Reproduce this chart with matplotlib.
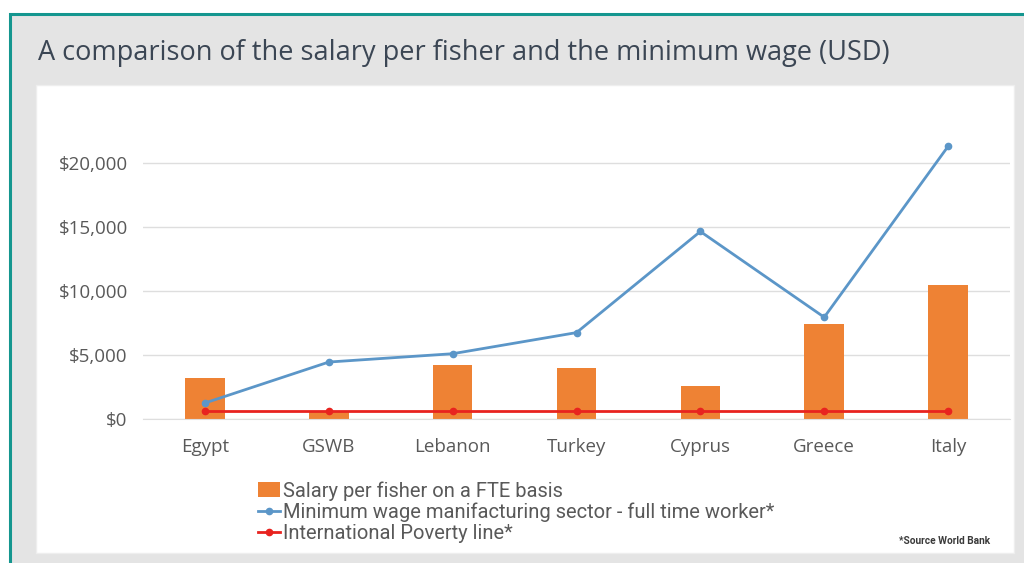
import numpy as np
import matplotlib.pyplot as plt
from matplotlib.patches import Rectangle
from matplotlib.ticker import FuncFormatter

# data (USD)
countries = ['Egypt', 'GSWB', 'Lebanon', 'Turkey', 'Cyprus', 'Greece', 'Italy']
salary_fisher = [3200, 650, 4200, 4000, 2600, 7400, 10500]
min_wage = [1250, 4450, 5100, 6750, 14650, 7950, 21300]
poverty_line = [600, 600, 600, 600, 600, 600, 600]

W, H = 1024, 563
fig = plt.figure(figsize=(W / 100, H / 100), dpi=100)
fig.patch.set_facecolor('white')

# grey card with teal edge, white chart area on top
fig.patches.append(Rectangle((10 / W, -0.2), 1.2, 1.2 - 14 / H, transform=fig.transFigure,
                             facecolor='#e4e4e4', edgecolor='#14968f', linewidth=2.2, zorder=-3))
fig.patches.append(Rectangle((36 / W, 1 - 553 / H), (1014 - 36) / W, (553 - 85) / H,
                             transform=fig.transFigure, facecolor='white',
                             edgecolor='#eeeeee', linewidth=1, zorder=-2))

fig.text(38 / W, 1 - 53 / H, 'A comparison of the salary per fisher and the minimum wage (USD)',
         fontsize=19.5, color='#3b4654', va='center', ha='left', family='Open Sans')

ax = fig.add_axes([143 / W, 1 - 419 / H, (1010 - 143) / W, 320 / H])
ax.set_facecolor('none')
x = np.arange(len(countries))

ax.bar(x, salary_fisher, width=0.32, color='#ee8234', zorder=2,
       label='Salary per fisher on a FTE basis')
ax.plot(x, min_wage, color='#5b96c8', lw=2, marker='o', ms=4.5, zorder=3,
        label='Minimum wage manifacturing sector - full time worker*')
ax.plot(x, poverty_line, color='#e8231f', lw=2, marker='o', ms=4.5, zorder=4,
        label='International Poverty line*')

ax.set_xlim(-0.5, len(countries) - 0.5)
ax.set_ylim(0, 25000)
ax.set_yticks([0, 5000, 10000, 15000, 20000])
ax.yaxis.set_major_formatter(FuncFormatter(lambda v, p: '${:,.0f}'.format(v)))
ax.set_xticks(x)
ax.set_xticklabels(countries)
ax.grid(axis='y', color='#dedede', lw=1, zorder=0)
for s in ['top', 'right', 'left']:
    ax.spines[s].set_visible(False)
ax.spines['bottom'].set_color('#dedede')
ax.tick_params(length=0, colors='#595959', labelsize=13.5)
ax.tick_params(axis='y', pad=11)
ax.tick_params(axis='x', pad=14)
for lab in ax.get_xticklabels() + ax.get_yticklabels():
    lab.set_family('Open Sans')

# legend order: bars first, then the two lines
h, l = ax.get_legend_handles_labels()
order = [2, 0, 1] if l[0] != 'Salary per fisher on a FTE basis' else [0, 1, 2]
leg = fig.legend([h[i] for i in order], [l[i] for i in order], loc='upper left',
                 bbox_to_anchor=(258 / W, 1 - 481 / H), frameon=False,
                 prop={'family': 'Roboto', 'size': 14.5},
                 handlelength=1.1, handletextpad=0.15, labelspacing=0.1,
                 borderaxespad=0, borderpad=0)
for t in leg.get_texts():
    t.set_color('#595959')

fig.text(990 / W, 1 - 541 / H, '*Source World Bank', fontsize=7.3, fontweight='bold',
         family='Roboto', color='#3a3a3a', ha='right', va='center')

fig.savefig('out.png', dpi=100)
